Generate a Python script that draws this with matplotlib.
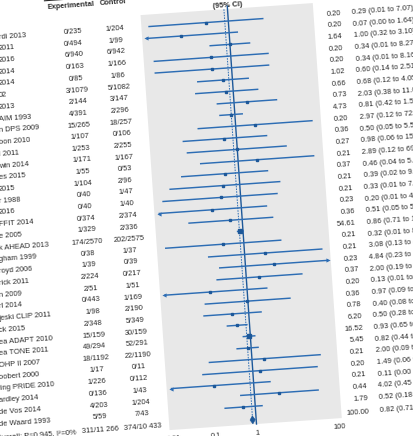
import numpy as np
import matplotlib
matplotlib.use("Agg")
import matplotlib.pyplot as plt
from matplotlib.transforms import Affine2D, blended_transform_factory
from matplotlib.patches import Rectangle, Polygon

# ---------------- data (visible parts of the cropped reference) ----------------
studies = ["rdi 2013", "2011", "2016", "2014", "2014", "02", "2013", "AIM 1993",
           "n DPS 2009", "bon 2010", "l 2011", "win 2014", "es 2015", "2015",
           "r 1988", "2016", "FFIT 2014", "e 2005", "k AHEAD 2013", "gham 1999",
           "royd 2006", "rick 2011", "n 2009", "rl 2014", "jeski CLIP 2011",
           "ck 2015", "ea ADAPT 2010", "ea TONE 2011", "OHP II 2007",
           "oobert 2000", "ling PRIDE 2010", "ardley 2014", "de Vos 2014",
           "de Waard 1993"]
exp_events = ["0/235", "0/494", "6/940", "0/163", "0/85", "3/1079", "2/144", "4/391",
              "15/265", "1/107", "1/253", "1/171", "1/55", "1/104", "0/40", "0/40",
              "0/374", "1/329", "174/2570", "0/38", "1/39", "2/224", "2/51", "0/443",
              "1/98", "2/348", "15/159", "49/294", "18/1192", "1/17", "1/226",
              "0/136", "4/203", "5/59"]
ctrl_events = ["1/204", "1/99", "6/942", "1/166", "1/86", "5/1082", "3/147", "2/296",
               "18/257", "0/106", "2/255", "1/167", "0/53", "2/96", "1/47", "1/40",
               "2/374", "2/336", "202/2575", "1/37", "0/39", "0/217", "1/51", "1/169",
               "2/190", "5/349", "30/159", "52/291", "22/1190", "0/11", "0/112",
               "1/43", "1/204", "7/43"]
weights = [0.20, 0.20, 1.64, 0.20, 0.20, 1.02, 0.66, 0.73, 4.73, 0.20, 0.36, 0.27,
           0.21, 0.37, 0.21, 0.21, 0.23, 0.36, 54.61, 0.21, 0.21, 0.23, 0.37, 0.20,
           0.36, 0.78, 6.20, 16.52, 5.45, 0.21, 0.20, 0.21, 0.44, 1.79]
or_est = [0.29, 0.07, 1.00, 0.34, 0.34, 0.60, 0.68, 2.03, 0.81, 2.97, 0.50, 0.98,
          2.89, 0.46, 0.39, 0.33, 0.20, 0.51, 0.86, 0.32, 3.08, 4.84, 2.00, 0.13,
          0.97, 0.40, 0.50, 0.93, 0.82, 2.00, 1.49, 0.11, 4.02, 0.52]
or_lo = [0.0117, 0.0027, 0.32, 0.0137, 0.0138, 0.14, 0.12, 0.38, 0.42, 0.12, 0.05,
         0.06, 0.12, 0.04, 0.02, 0.0129, 0.0095, 0.05, 0.71, 0.0125, 0.13, 0.23,
         0.19, 0.0052, 0.09, 0.08, 0.28, 0.65, 0.44, 0.09, 0.06, 0.0042, 0.45, 0.18]
or_hi = [7.07, 1.64, 3.10, 8.27, 8.16, 2.51, 4.05, 11.05, 1.57, 72.5, 5.55, 15.7,
         69.5, 5.10, 9.60, 7.90, 4.20, 5.65, 1.05, 8.10, 76.0, 101.5, 22.9, 3.11,
         10.8, 2.07, 0.90, 1.33, 1.53, 46.0, 37.1, 2.59, 36.0, 1.52]
overall_label = "Overall: P=0.945, I\u00b2=0%"
overall_exp, overall_ctrl = "311/11 266", "374/10 433"
overall_weight = 100.00
overall_or = (0.82, 0.71, 0.95)
axis_ticks = [0.01, 0.1, 1, 100]
axis_ticklabels = ["0.01", "0.1", "1", "100"]

# ---------------- layout ----------------
plt.rcParams["font.family"] = ["Liberation Sans", "DejaVu Sans"]
FS = 5.4
BLUE = "#2d6db4"
DBLUE = "#1d5899"
TXT = "#2b2b2b"

W, H = 413, 436
fig = plt.figure(figsize=(W / 100, H / 100), dpi=100)
fig.patch.set_facecolor("white")
ax = fig.add_axes([0, 0, 1, 1])
ax.set_xlim(0, W)
ax.set_ylim(H, 0)
ax.axis("off")

# the reference is a slightly tilted page: rotate everything by the same angle
ANGLE = 4.0
rot = Affine2D().rotate_deg_around(W / 2, H / 2, ANGLE)
T = ax.transData + rot

n = len(studies)
ROW0, ROWH = 23.0, 11.7
row_v = ROW0 + ROWH * np.arange(n)
over_v = row_v[-1] + 13.5

U_LO, U_HI = 159.0, 325.0      # x positions of 0.01 and 100
V_TOP, V_BOT = 11.0, 427.0
axP = fig.add_axes([U_LO / W, 1 - V_BOT / H, (U_HI - U_LO) / W, (V_BOT - V_TOP) / H])
axP.set_xscale("log")
axP.set_xlim(0.01, 100)
axP.set_ylim(V_BOT, V_TOP)
axP.axis("off")
TP = axP.transData + rot
TB = blended_transform_factory(axP.transData, ax.transData) + rot

# grey plotting panel
bg = Rectangle((-0.025, 0), 1.04, 1, transform=axP.transAxes + rot,
               facecolor="#e8e8e8", edgecolor="none", zorder=0, clip_on=False)
axP.add_patch(bg)

# reference lines
axP.plot([1, 1], [V_TOP - 3, V_BOT], color=DBLUE, lw=1.0, transform=TP,
         clip_on=False, zorder=2)
axP.plot([overall_or[0]] * 2, [V_TOP, over_v], color=BLUE, lw=0.7,
         ls=(0, (1.6, 1.2)), transform=TP, clip_on=False, zorder=2)

xmin, xmax = 0.01, 100
for i in range(n):
    v = row_v[i]
    lo, hi = max(or_lo[i], xmin), min(or_hi[i], xmax)
    axP.plot([lo, hi], [v, v], color=BLUE, lw=1.05, transform=TP, clip_on=False,
             zorder=3, solid_capstyle="butt")
    ms = (2.5 + 0.2 * np.sqrt(weights[i])) * 0.72
    axP.plot([or_est[i]], [v], marker="s", ms=ms, color=DBLUE, mec=DBLUE,
             transform=TP, clip_on=False, zorder=4)
    if or_lo[i] < xmin:
        axP.plot([xmin], [v], marker="<", ms=3.0, color=BLUE, mew=0,
                 transform=TP, clip_on=False, zorder=4)
    if or_hi[i] > xmax:
        axP.plot([xmax], [v], marker=">", ms=3.0, color=BLUE, mew=0,
                 transform=TP, clip_on=False, zorder=4)

# overall diamond
e, l, h = overall_or
dia = Polygon([(l, over_v), (e, over_v - 4.0), (h, over_v), (e, over_v + 4.0)],
              closed=True, transform=TP, facecolor=DBLUE, edgecolor=DBLUE,
              lw=0.4, zorder=5, clip_on=False)
axP.add_patch(dia)

# axis tick labels
for t, lab in zip(axis_ticks, axis_ticklabels):
    ax.text(t, 436.0, lab, transform=TB, rotation=ANGLE, rotation_mode="anchor",
            ha="center", va="center", fontsize=FS, color=TXT, clip_on=False)


def edge_u(v, xd=-1.5):
    x0 = T.transform((0, v))[0]
    x1 = T.transform((100, v))[0]
    return (xd - x0) * 100 / (x1 - x0)


def txt(u, v, s, ha="left", bold=False):
    ax.text(u, v, s, transform=T, rotation=ANGLE, rotation_mode="anchor",
            ha=ha, va="center", fontsize=FS, color=TXT,
            fontweight="bold" if bold else "normal", clip_on=False)


U_EXP, U_CTRL, U_WT, U_OR = 86.0, 128.0, 355.0, 366.0
for i in range(n):
    v = row_v[i]
    txt(edge_u(v), v, studies[i])
    txt(U_EXP, v, exp_events[i], ha="center")
    txt(U_CTRL, v, ctrl_events[i], ha="center")
    txt(U_WT, v, f"{weights[i]:.2f}", ha="right")
    txt(U_OR, v, f"{or_est[i]:.2f} ({or_lo[i]:.2f} to {or_hi[i]:.2f})")

txt(edge_u(over_v, -4.0), over_v, overall_label)
txt(U_EXP, over_v, overall_exp, ha="center")
txt(U_CTRL, over_v, overall_ctrl, ha="center")
txt(U_WT, over_v, f"{overall_weight:.2f}", ha="right")
txt(U_OR, over_v, f"{e:.2f} ({l:.2f} to {h:.2f})")

# headers
HV = -3.0
txt(U_EXP, HV, "Experimental", ha="center", bold=True)
txt(U_CTRL, HV, "Control", ha="center", bold=True)
txt(U_EXP + 21, HV - 11, "No of events/total", ha="center", bold=True)
ax.plot([60, 150], [HV - 7.0, HV - 7.0], color=TXT, lw=0.8, transform=T,
        clip_on=False)
ax.text(1, 7.0, "(95% CI)", transform=TB, rotation=ANGLE, rotation_mode="anchor",
        ha="center", va="center", fontsize=FS, color=TXT, fontweight="bold",
        clip_on=False)
ax.text(1, -3.5, "Odds ratio", transform=TB, rotation=ANGLE, rotation_mode="anchor",
        ha="center", va="center", fontsize=FS, color=TXT, fontweight="bold",
        clip_on=False)
txt(U_WT, HV, "Weight (%)", ha="right", bold=True)
txt(U_OR, HV, "Odds ratio (95% CI)", bold=True)

fig.savefig("out.png", dpi=100, facecolor="white")
